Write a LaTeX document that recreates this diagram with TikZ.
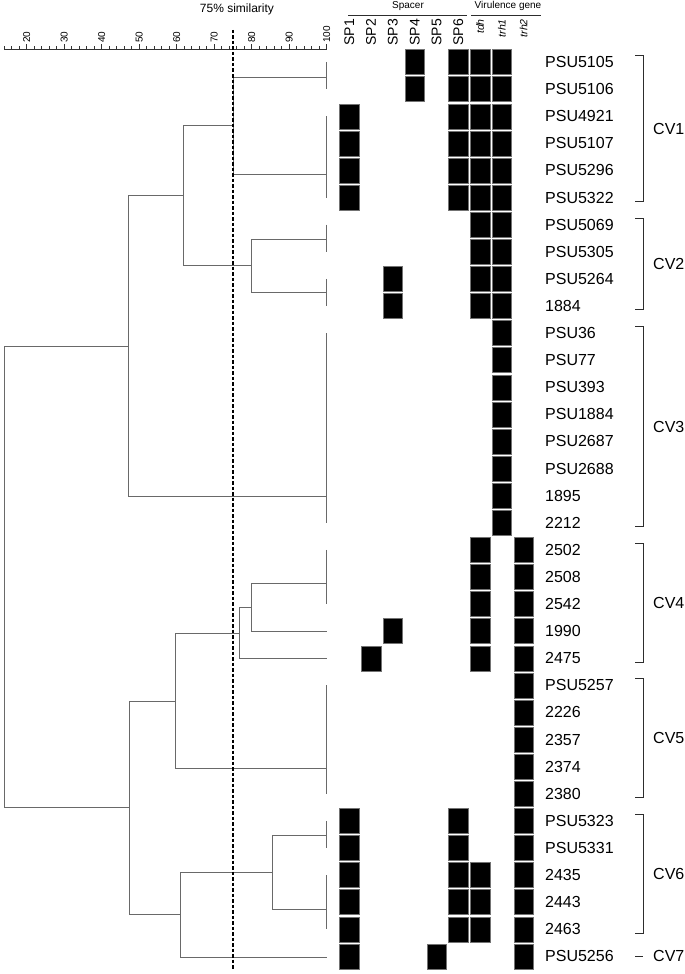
\documentclass[tikz,border=0pt]{standalone}
\usepackage{fontspec}
\setmainfont{Liberation Sans}
\usepackage{xcolor}
\definecolor{dggray}{RGB}{105,105,105}
\definecolor{brgray}{RGB}{45,45,45}
\usetikzlibrary{calc}

\tikzset{
  dend/.style={draw=dggray,line width=0.8pt},
  brline/.style={draw=brgray,line width=0.9pt},
  axisline/.style={draw=black!80,line width=0.6pt},
  cutline/.style={draw=black,line width=1.8pt,dash pattern=on 3.5pt off 2pt},
  cell/.style={fill=black,draw=black!55,line width=0.4pt,minimum width=19.5pt,minimum height=25pt,inner sep=0pt},
  leaflbl/.style={anchor=west,inner sep=0pt,font=\fontsize{16}{18}\selectfont},
  cvlbl/.style={anchor=west,inner sep=0pt,font=\fontsize{16}{18}\selectfont},
  colhead/.style={rotate=90,anchor=east,inner sep=0pt,font=\fontsize{14}{16}\selectfont},
  genehead/.style={colhead,font=\fontsize{10.5}{12}\selectfont\itshape},
  ticklbl/.style={rotate=90,anchor=west,inner sep=0pt,font=\fontsize{10}{12}\selectfont},
  grouplbl/.style={inner sep=0pt,font=\fontsize{10}{12}\selectfont}
}

\begin{document}
\begin{tikzpicture}[x=1pt,y=-1pt]
  \useasboundingbox (0,0) rectangle (685,974);
  % similarity scale
  \node[grouplbl,font=\fontsize{12}{14}\selectfont] (simtitle) at (237,9) {75\% similarity};
  \draw[axisline] (4.2,49) -- (326.7,49);
  \foreach \s in {14,16,...,100}
    \draw[axisline] ({26.7+(\s-20)*3.75},49) -- ++(0,-2.5);
  \foreach \s in {20,30,...,100}{
    \draw[axisline] ({26.7+(\s-20)*3.75},49) -- ++(0,-5);
    \node[ticklbl] (tick\s) at ({26.7+(\s-20)*3.75},43) {\s};
  }
  % column headers
  \node[grouplbl] (spacer) at (408,6) {Spacer};
  \draw[brline] (348,15) -- (467,15);
  \node[grouplbl] (virgene) at (508,6) {Virulence gene};
  \draw[brline] (471,15) -- (541,15);
  \foreach \t [count=\c from 0] in {SP1,SP2,SP3,SP4,SP5,SP6}
    \node[colhead] (head\t) at (349.3+21.8*\c,19) {\t};
  \foreach \t/\c in {tdh/6,trh1/7,trh2/8}
    \node[genehead] (head\t) at (349.3+21.8*\c,19) {\t};
  % dendrogram: leaves and joins
  \coordinate (lA) at (326.7,77);
  \coordinate (lB) at (326.7,174);
  \coordinate (lC) at (326.7,239);
  \coordinate (lD) at (326.7,292.3);
  \coordinate (lE) at (326.7,496.4);
  \coordinate (lF) at (326.7,583.7);
  \coordinate (l1990) at (326.7,631.7);
  \coordinate (l2475) at (326.7,658.3);
  \coordinate (lG) at (326.7,768.7);
  \coordinate (lH) at (326.7,835);
  \coordinate (lI) at (326.7,909.3);
  \coordinate (l5256) at (326.7,957.3);
  \coordinate (n1) at (233,125.5);
  \coordinate (n2) at (251.7,265.7);
  \coordinate (n3) at (183,195.6);
  \coordinate (n4) at (128,346);
  \coordinate (n5) at (251.7,607.7);
  \coordinate (n6) at (239.3,633);
  \coordinate (n7) at (175.7,700.9);
  \coordinate (n8) at (272.7,872.2);
  \coordinate (n9) at (180,914.7);
  \coordinate (n10) at (129.3,807.8);
  \coordinate (root) at (4.3,577);
  \foreach \a/\b in {0/1,2/5,6/7,8/9,10/17,18/20,23/27,28/29,30/32}
    \draw[dend] (326.7,62+27.1*\a) -- (326.7,62+27.1*\b);
  \foreach \p/\q in {root/n4,root/n10,n4/n3,n4/lE,n3/n1,n3/n2,n1/lA,n1/lB,n2/lC,n2/lD,
                     n10/n7,n10/n9,n7/n6,n7/lG,n6/n5,n6/l2475,n5/lF,n5/l1990,
                     n9/n8,n9/l5256,n8/lH,n8/lI}
    \draw[dend] (\p) |- (\q);
  % 75% cut-off
  \draw[cutline] (233,30) -- (233,970);
  % spacer / gene matrix
  \foreach \r/\cols in {0/{3,5,6,7},1/{3,5,6,7},2/{0,5,6,7},3/{0,5,6,7},4/{0,5,6,7},5/{0,5,6,7},
                        6/{6,7},7/{6,7},8/{2,6,7},9/{2,6,7},
                        10/{7},11/{7},12/{7},13/{7},14/{7},15/{7},16/{7},17/{7},
                        18/{6,8},19/{6,8},20/{6,8},21/{2,6,8},22/{1,6,8},
                        23/{8},24/{8},25/{8},26/{8},27/{8},
                        28/{0,5,8},29/{0,5,8},30/{0,5,6,8},31/{0,5,6,8},32/{0,5,6,8},
                        33/{0,4,8}}
    \foreach \c in \cols
      \node[cell] (cell-\r-\c) at (349.3+21.8*\c,62+27.1*\r) {};
  % isolates
  \foreach \name [count=\i from 0] in {PSU5105,PSU5106,PSU4921,PSU5107,PSU5296,PSU5322,
      PSU5069,PSU5305,PSU5264,1884,PSU36,PSU77,PSU393,PSU1884,PSU2687,PSU2688,1895,2212,
      2502,2508,2542,1990,2475,PSU5257,2226,2357,2374,2380,
      PSU5323,PSU5331,2435,2443,2463,PSU5256}
    \node[leaflbl] (iso\i) at (545,62+27.1*\i) {\name};
  % CV groups
  \foreach \a/\b/\cv in {0/5/CV1,6/9/CV2,10/17/CV3,18/22/CV4,23/27/CV5,28/32/CV6}{
    \draw[brline] (635,55.5+27.1*\a) -- (643.3,55.5+27.1*\a) -- (643.3,66+27.1*\b) -- (635,66+27.1*\b);
    \node[cvlbl] (\cv) at (653,{(121.5+27.1*(\a+\b))/2}) {\cv};
  }
  \draw[brline] (635,956) -- (643,956);
  \node[cvlbl] (CV7) at (653,956) {CV7};
\end{tikzpicture}
\end{document}
